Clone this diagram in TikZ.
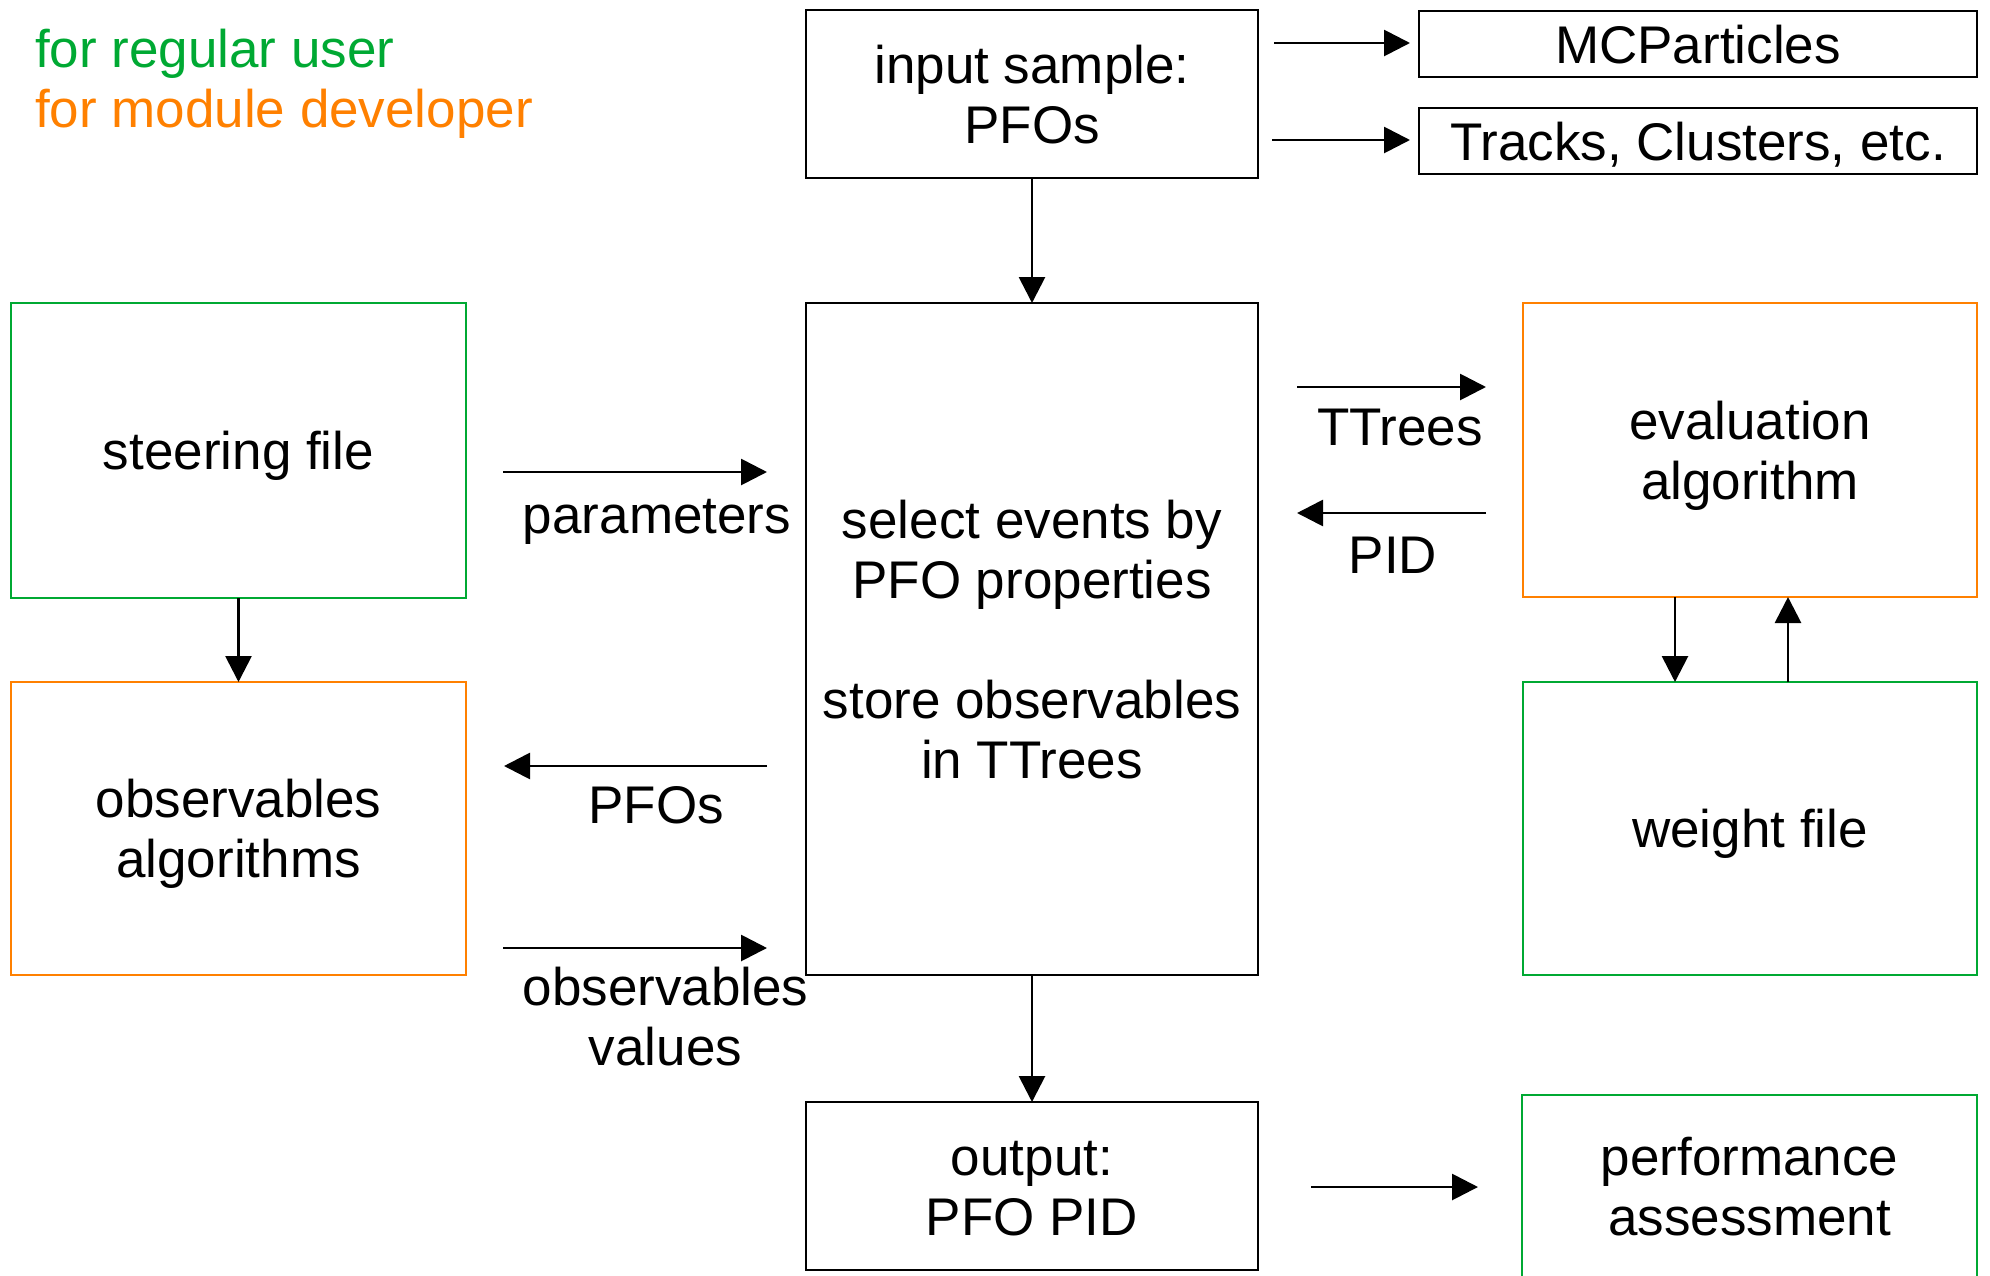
\documentclass[tikz,border=0pt]{standalone}
\usepackage{fontspec}
\setmainfont{Liberation Sans}
\usetikzlibrary{arrows.meta}
\definecolor{ugreen}{HTML}{00A933}
\definecolor{dorange}{HTML}{FF8000}
\newcommand\bxl[1]{\raisebox{0pt}[38pt][0pt]{#1}}
\begin{document}
\begin{tikzpicture}[x=1pt,y=-1pt,
  every node/.style={font=\fontsize{53}{60}\selectfont, inner sep=0pt, outer sep=0pt},
  box/.style={draw=black, line width=2.6pt, rectangle, align=center},
  gbox/.style={box, draw=ugreen, line width=2.4pt},
  obox/.style={box, draw=dorange, line width=2.4pt},
  arr/.style={line width=2.8pt, -{Triangle[length=26pt,width=26pt]}},
  lbl/.style={anchor=base}]
\useasboundingbox (0,0) rectangle (1990,1275);

% legend
\node[anchor=base west, text=ugreen] (leg1) at (35,67) {for regular user};
\node[anchor=base west, text=dorange] (leg2) at (35,127) {for module developer};

% boxes
\node[box, minimum width=452pt, minimum height=168pt] (inp) at (1032,94) {\bxl{input sample:}\\\bxl{PFOs}};
\node[box, minimum width=558pt, minimum height=66pt] (mcp) at (1698,44) {\bxl{MCParticles}};
\node[box, minimum width=558pt, minimum height=66pt] (trk) at (1698,141) {\bxl{Tracks, Clusters, etc.}};
\node[box, minimum width=452pt, minimum height=672pt] (ctr) at (1032,639) {\bxl{select events by}\\\bxl{PFO properties}\\\bxl{}\\\bxl{store observables}\\\bxl{in TTrees}};
\node[gbox, minimum width=455pt, minimum height=295pt] (steer) at (238.5,450.5) {\bxl{steering file}};
\node[obox, minimum width=455pt, minimum height=293pt] (obs) at (238.5,828.5) {\bxl{observables}\\\bxl{algorithms}};
\node[obox, minimum width=454pt, minimum height=294pt] (ev) at (1750,450) {\bxl{evaluation}\\\bxl{algorithm}};
\node[gbox, minimum width=454pt, minimum height=293pt] (wt) at (1750,828.5) {\bxl{weight file}};
\node[box, minimum width=452pt, minimum height=168pt] (out) at (1032,1186) {\bxl{output:}\\\bxl{PFO PID}};
\node[gbox, minimum width=455pt, minimum height=182pt] (perf) at (1749.5,1186) {\bxl{performance}\\\bxl{assessment}};

% free arrow ends
\coordinate (mcpA) at (1274,43);  \coordinate (mcpB) at (1410,43);
\coordinate (trkA) at (1272,140); \coordinate (trkB) at (1410,140);
\coordinate (parA) at (503,472);  \coordinate (parB) at (767,472);
\coordinate (pfoA) at (767,766);  \coordinate (pfoB) at (504,766);
\coordinate (ovA) at (503,948);   \coordinate (ovB) at (767,948);
\coordinate (ttA) at (1297,387);  \coordinate (ttB) at (1486,387);
\coordinate (pidA) at (1486,513); \coordinate (pidB) at (1297,513);
\coordinate (prfA) at (1311,1187); \coordinate (prfB) at (1478,1187);

% connectors
\draw[arr] (inp.south) -- (ctr.north);
\draw[arr] (ctr.south) -- (out.north);
\draw[arr] (steer.south) -- (obs.north);
\draw[arr] (1675,0 |- ev.south) -- (1675,0 |- wt.north);
\draw[arr] (1788,0 |- wt.north) -- (1788,0 |- ev.south);
\draw[arr] (mcpA) -- (mcpB);
\draw[arr] (trkA) -- (trkB);
\draw[arr] (parA) -- (parB);
\draw[arr] (pfoA) -- (pfoB);
\draw[arr] (ovA) -- (ovB);
\draw[arr] (ttA) -- (ttB);
\draw[arr] (pidA) -- (pidB);
\draw[arr] (prfA) -- (prfB);

% connector labels
\node[lbl] (lpar) at (657,533) {parameters};
\node[lbl] (lpfo) at (656,823) {PFOs};
\node[anchor=north, align=center] (lov) at (665.5,967) {\bxl{observables}\\\bxl{values}};
\node[lbl] (ltt) at (1400,445) {TTrees};
\node[lbl] (lpid) at (1393,573) {PID};
\end{tikzpicture}
\end{document}
